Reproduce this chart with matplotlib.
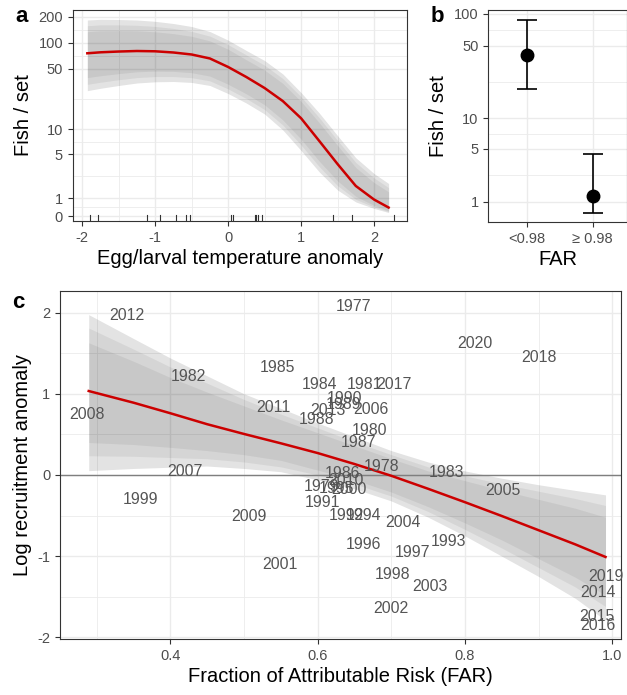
import numpy as np
import matplotlib
matplotlib.use("Agg")
import matplotlib.pyplot as plt
from matplotlib.ticker import FixedLocator, NullFormatter

plt.rcParams['font.family'] = ['Liberation Sans', 'DejaVu Sans']

# panel a: fitted fish/set vs egg/larval temperature anomaly
a_x = [-1.93, -1.75, -1.5, -1.25, -1.0, -0.75, -0.5, -0.25, 0.0, 0.25,
       0.5, 0.75, 1.0, 1.25, 1.5, 1.75, 2.0, 2.2]
a_fit = [75.5, 77.5, 79.1, 80.2, 79.6, 77.1, 73.1, 65.8, 52.5, 40.2,
         30.0, 21.2, 13.4, 7.23, 3.75, 1.79, 0.92, 0.47]
a_hi95 = [182.6, 185.9, 185, 182.6, 176.3, 166.4, 153.6, 134.5, 107, 81.3,
          62.3, 43.6, 26.6, 15.4, 8.39, 4.52, 2.79, 1.97]
a_lo95 = [27.96, 29.8, 32.1, 34.3, 35.4, 35.7, 34.8, 32.1, 25.9, 20.1,
          15.0, 9.77, 5.55, 2.93, 1.51, 0.78, 0.42, 0.20]
a_hi90 = [157, 160.3, 160.3, 158.6, 154.0, 146.1, 135.2, 119.1, 95.0, 72.2,
          55.0, 38.6, 23.8, 13.57, 7.35, 3.93, 2.41, 1.67]
a_lo90 = [33.1, 35.0, 37.4, 39.6, 40.7, 40.7, 39.5, 36.3, 29.3, 22.7,
          16.9, 11.15, 6.48, 3.46, 1.81, 0.93, 0.50, 0.245]
a_hi80 = [133.9, 137, 137.4, 137, 133.5, 127.2, 118.5, 104.9, 84.0, 63.5,
          48.3, 33.9, 21.0, 11.86, 6.39, 3.37, 2.04, 1.39]
a_lo80 = [39.6, 41.6, 44.0, 46.2, 47.0, 46.7, 45.1, 41.2, 33.2, 25.7,
          19.2, 12.8, 7.62, 4.08, 2.17, 1.11, 0.59, 0.29]
rug_x = [-1.899, -1.780, -1.106, -0.931, -0.711, -0.583, -0.523, 0.041, 0.069,
         0.362, 0.387, 0.413, 0.468, 1.440, 1.693, 2.275]
a_yticks = [0, 1, 5, 10, 50, 100, 200]
a_xticks = [-2, -1, 0, 1, 2]

# panel b: fish/set by FAR group
b_groups = ['<0.98', '\u2265 0.98']
b_mean = [41, 1.3]
b_lo = [19.1, 0.48]
b_hi = [88.4, 4.4]
b_yticks = [1, 5, 10, 50, 100]

# panel c: log recruitment anomaly vs FAR
c_x = [0.289, 0.35, 0.4, 0.45, 0.5, 0.55, 0.6, 0.65, 0.7, 0.75,
       0.8, 0.85, 0.9, 0.95, 0.991]
c_fit = [1.034, 0.89, 0.76, 0.625, 0.505, 0.39, 0.27, 0.135, -0.01, -0.17,
         -0.335, -0.505, -0.68, -0.855, -1.01]
c_hi95 = [1.975, 1.68, 1.44, 1.22, 1.0, 0.82, 0.64, 0.47, 0.30, 0.16,
          0.05, -0.04, -0.12, -0.19, -0.245]
c_lo95 = [0.053, 0.08, 0.095, 0.11, 0.08, 0.04, -0.06, -0.17, -0.32, -0.52,
          -0.75, -1.0, -1.25, -1.52, -1.79]
c_hi90 = [1.81, 1.55, 1.33, 1.13, 0.93, 0.75, 0.58, 0.41, 0.25, 0.10,
          -0.01, -0.11, -0.2, -0.29, -0.376]
c_lo90 = [0.237, 0.23, 0.215, 0.2, 0.16, 0.1, 0.0, -0.11, -0.26, -0.45,
          -0.67, -0.9, -1.14, -1.38, -1.62]
c_hi80 = [1.628, 1.40, 1.2, 1.02, 0.85, 0.68, 0.52, 0.36, 0.20, 0.05,
          -0.07, -0.19, -0.30, -0.41, -0.52]
c_lo80 = [0.40, 0.375, 0.34, 0.30, 0.25, 0.18, 0.06, -0.06, -0.21, -0.39,
          -0.59, -0.80, -1.03, -1.26, -1.48]

years = list(range(1977, 2021))
far = [0.648, 0.687, 0.605, 0.671, 0.664, 0.424, 0.775, 0.602, 0.546, 0.633,
       0.655, 0.598, 0.635, 0.637, 0.606, 0.639, 0.778, 0.662, 0.626, 0.662,
       0.729, 0.701, 0.360, 0.642, 0.549, 0.700, 0.752, 0.716, 0.852, 0.672,
       0.420, 0.286, 0.506, 0.639, 0.540, 0.341, 0.614, 0.981, 0.979, 0.981,
       0.703, 0.900, 0.991, 0.814]
rec = [2.077, 0.107, -0.139, 0.544, 1.117, 1.211, 0.033, 1.117, 1.321, 0.021,
       0.401, 0.679, 0.871, 0.941, -0.335, -0.499, -0.818, -0.499, -0.172, -0.859,
       -0.957, -1.223, -0.307, -0.184, -1.104, -1.644, -1.378, -0.580, -0.193, 0.810,
       0.040, 0.748, -0.512, -0.070, 0.831, 1.963, 0.789, -1.448, -1.746, -1.856,
       1.117, 1.452, -1.255, 1.620]

# pseudo-log axis as in the original (asinh(y/2))
fwd = lambda v: np.arcsinh(np.asarray(v) / 2.0)
inv = lambda t: 2.0 * np.sinh(np.asarray(t))

RED = '#cc0000'
GRID = '#ebebeb'
TICKC = '#4d4d4d'
BORDER = '#333333'


def style(ax, xminor, yminor):
    for s in ax.spines.values():
        s.set_color(BORDER)
        s.set_linewidth(0.8)
    ax.tick_params(colors=BORDER, labelcolor=TICKC, labelsize=10.5,
                   length=3.5, width=0.8)
    ax.tick_params(which='minor', length=0)
    ax.xaxis.set_minor_locator(FixedLocator(xminor))
    ax.yaxis.set_minor_locator(FixedLocator(yminor))
    ax.yaxis.set_minor_formatter(NullFormatter())
    ax.xaxis.set_minor_formatter(NullFormatter())
    ax.grid(True, which='major', color=GRID, lw=1.0)
    ax.grid(True, which='minor', color=GRID, lw=0.6)
    ax.set_axisbelow(True)


def ribbons(ax, x, lo95, hi95, lo90, hi90, lo80, hi80):
    ax.fill_between(x, lo95, hi95, color='black', alpha=0.11, lw=0)
    ax.fill_between(x, lo90, hi90, color='black', alpha=0.06, lw=0)
    ax.fill_between(x, lo80, hi80, color='black', alpha=0.06, lw=0)


fig = plt.figure(figsize=(6.27, 6.95), dpi=100)

# ---- panel a
ax1 = fig.add_axes([0.116, 0.682, 0.5336, 0.3036])
ax1.set_yscale('function', functions=(fwd, inv))
ribbons(ax1, a_x, a_lo95, a_hi95, a_lo90, a_hi90, a_lo80, a_hi80)
ax1.plot(a_x, a_fit, color=RED, lw=1.8)
for r in rug_x:
    ax1.axvline(r, ymin=0, ymax=0.03, color='#333333', lw=0.8)
ax1.set_xlim(-2.13, 2.456)
ax1.set_ylim(-0.25, 238)
ax1.set_yticks(a_yticks)
ax1.set_yticklabels([str(t) for t in a_yticks])
ax1.set_xticks(a_xticks)
ax1.set_xticklabels([str(t) for t in a_xticks])
ta = fwd(a_yticks)
style(ax1, [-1.5, -0.5, 0.5, 1.5], list(inv((ta[1:] + ta[:-1]) / 2)))
ax1.set_xlabel('Egg/larval temperature anomaly', fontsize=14.5, labelpad=3)
ax1.set_ylabel('Fish / set', fontsize=14.5, labelpad=4)

# ---- panel b
ax2 = fig.add_axes([0.7788, 0.680, 0.2207, 0.3056])
ax2.set_yscale('function', functions=(fwd, inv))
bx = np.arange(1, len(b_groups) + 1)
err = [np.array(b_mean) - np.array(b_lo), np.array(b_hi) - np.array(b_mean)]
ax2.errorbar(bx, b_mean, yerr=err, fmt='o', color='black', ms=9,
             capsize=7, elinewidth=1.2, capthick=1.2)
ax2.set_xlim(0.418, 2.515)
ax2.set_ylim(0.06, 109)
ax2.set_xticks(bx)
ax2.set_xticklabels(b_groups)
ax2.set_yticks(b_yticks)
ax2.set_yticklabels([str(t) for t in b_yticks])
tb = fwd(b_yticks)
style(ax2, [], list(inv((tb[1:] + tb[:-1]) / 2)))
ax2.set_xlabel('FAR', fontsize=14.5, labelpad=3)
ax2.set_ylabel('Fish / set', fontsize=14.5, labelpad=4)

# ---- panel c
ax3 = fig.add_axes([0.0957, 0.0806, 0.8947, 0.5007])
ribbons(ax3, c_x, c_lo95, c_hi95, c_lo90, c_hi90, c_lo80, c_hi80)
ax3.axhline(0, color='#7f7f7f', lw=1.0)
ax3.plot(c_x, c_fit, color=RED, lw=1.8)
for yr, fx, ry in zip(years, far, rec):
    ax3.text(fx, ry, str(yr), ha='center', va='center', fontsize=11.4,
             color='#555555')
ax3.set_xlim(0.25, 1.012)
ax3.set_ylim(-2.02, 2.266)
ax3.set_xticks([0.4, 0.6, 0.8, 1.0])
ax3.set_xticklabels(['0.4', '0.6', '0.8', '1.0'])
ax3.set_yticks([-2, -1, 0, 1, 2])
ax3.set_yticklabels(['-2', '-1', '0', '1', '2'])
style(ax3, [0.3, 0.5, 0.7, 0.9], [-1.5, -0.5, 0.5, 1.5])
ax3.set_xlabel('Fraction of Attributable Risk (FAR)', fontsize=14.5, labelpad=3)
ax3.set_ylabel('Log recruitment anomaly', fontsize=14.5, labelpad=4)

fig.text(22 / 627, 1 - 17 / 695, 'a', fontsize=16, fontweight='bold',
         ha='center', va='center')
fig.text(437 / 627, 1 - 17 / 695, 'b', fontsize=16, fontweight='bold',
         ha='center', va='center')
fig.text(18 / 627, 1 - 303 / 695, 'c', fontsize=16, fontweight='bold',
         ha='center', va='center')

fig.savefig('out.png', dpi=100)
